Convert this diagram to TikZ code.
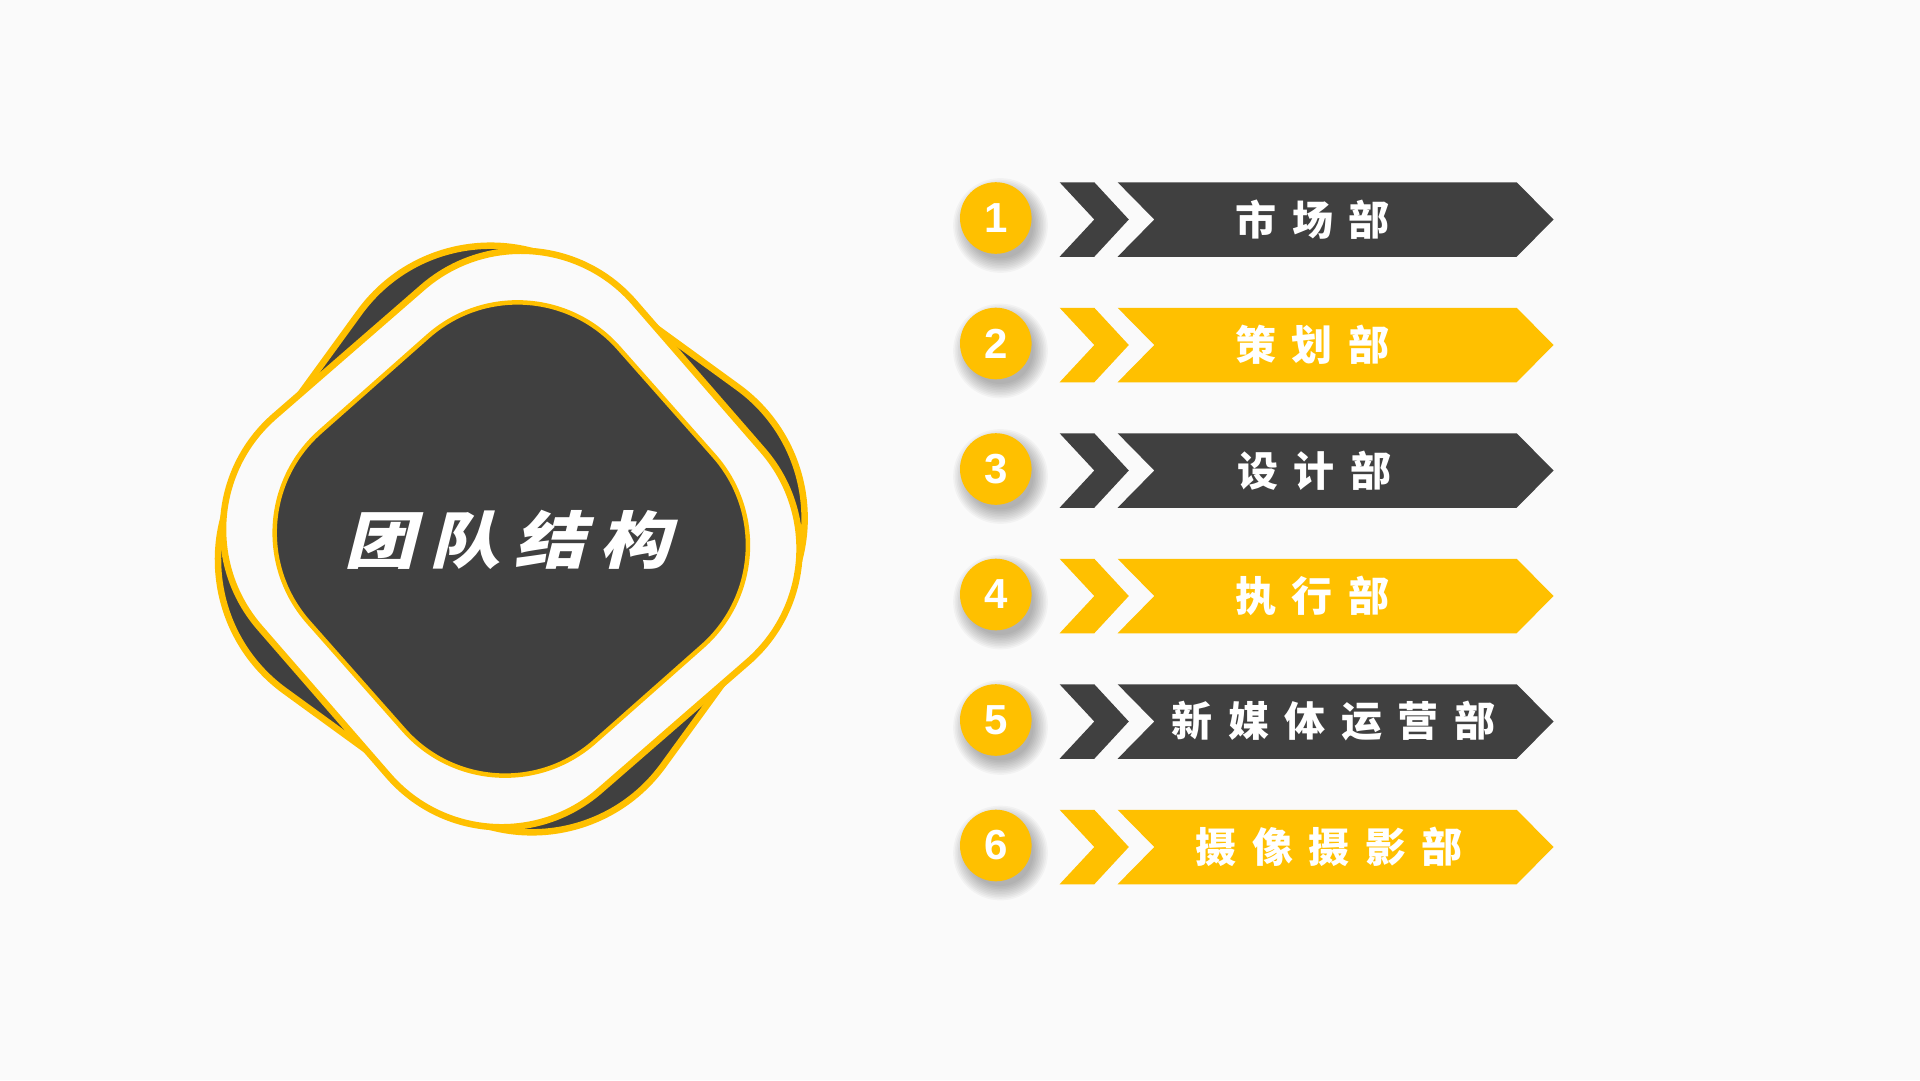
\documentclass[tikz,border=0pt]{standalone}
\usepackage{fontspec}
\setmainfont{Liberation Sans}
\newfontfamily\cjk{Noto Sans CJK SC}
\newfontfamily\cjktitle[FakeSlant=0.22]{Noto Sans CJK SC}
\definecolor{gold}{HTML}{FFC000}
\definecolor{darkg}{HTML}{404040}
\definecolor{bgc}{HTML}{FAFAFA}
\newcommand{\gp}{\hspace{15.5pt}}
\newcommand{\tgp}{\hspace{12pt}}
\tikzset{
  goldline/.style={draw=gold, line width=6.5pt},
  innerline/.style={draw=gold, line width=4.5pt},
  numcircle/.style={circle, fill=gold, minimum size=71.6pt, inner sep=0pt,
    text=white, font=\bfseries\fontsize{42}{42}\selectfont},
  barlabel/.style={text=white, inner sep=0pt, font=\cjk\bfseries\fontsize{41}{41}\selectfont},
  titlelabel/.style={text=white, inner sep=0pt}
}
\begin{document}
\begin{tikzpicture}[x=1pt,y=-1pt]
\fill[bgc] (0,0) rectangle (1920,1080);
\useasboundingbox (0,0) rectangle (1920,1080);
% emblem
\coordinate (ec) at (511.3,539);
\path[fill=darkg, goldline, rotate around={54:(ec)}, rounded corners=162pt]
  (511.3-256,539-256) rectangle (511.3+256,539+256);
\path[fill=bgc, goldline, rotate around={41:(ec)}, rounded corners=150pt]
  (511.3-248,539-248) rectangle (511.3+248,539+248);
\path[fill=darkg, innerline, rotate around={41.5:(ec)}, rounded corners=135pt]
  (511.3-207,539-207) rectangle (511.3+207,539+207);
\node[titlelabel] (title) at (508,539.5)
  {\scalebox{1.15}[1]{\cjktitle\bfseries\fontsize{62}{62}\selectfont 团\tgp 队\tgp 结\tgp 构}};
% rows
\foreach \i/\col/\lx/\txt in {
  1/darkg/1312.5/市\gp 场\gp 部,
  2/gold/1312/策\gp 划\gp 部,
  3/darkg/1314/设\gp 计\gp 部,
  4/gold/1312/执\gp 行\gp 部,
  5/darkg/1333.3/新\gp 媒\gp 体\gp 运\gp 营\gp 部,
  6/gold/1329.4/摄\gp 像\gp 摄\gp 影\gp 部}{
  \pgfmathsetmacro{\yc}{219.5+125.5*(\i-1)}
  \pgfmathsetmacro{\cy}{\yc-1.5}
  \foreach \k in {0,...,9}{
    \fill[black, opacity=0.032] (1000.5,\cy+7.5) circle ({33+1.6*\k});
  }
  \node[numcircle] (c\i) at (995.8,\cy) {\i};
  \fill[\col] (1059.6,\yc-37.25) -- (1094.3,\yc-37.25) -- (1128.8,\yc) -- (1094.3,\yc+37.25)
    -- (1059.6,\yc+37.25) -- (1094.3,\yc) -- cycle;
  \fill[\col] (1117.6,\yc-37.25) -- (1516.7,\yc-37.25) -- (1553.5,\yc) -- (1516.7,\yc+37.25)
    -- (1117.6,\yc+37.25) -- (1154.3,\yc) -- cycle;
  \node[barlabel] (l\i) at (\lx,\yc) {\txt};
}
\end{tikzpicture}
\end{document}
